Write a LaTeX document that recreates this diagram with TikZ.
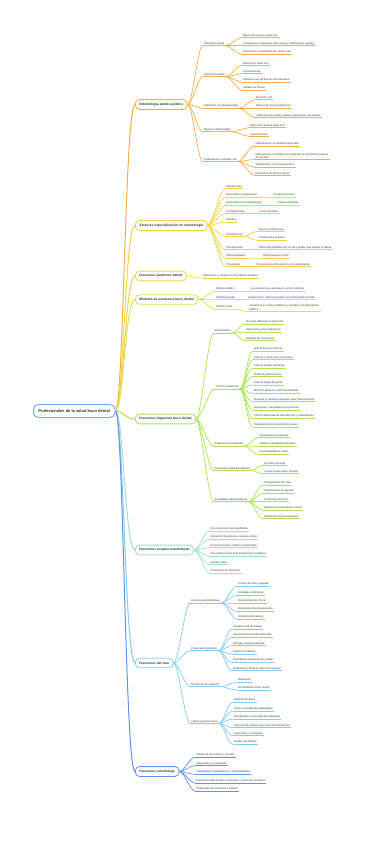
\documentclass[tikz,border=0pt]{standalone}
\usepackage{fontspec}
\setmainfont{Liberation Sans}
\definecolor{rootC}{HTML}{6FA8E8}
\definecolor{orgC}{HTML}{F8AE45}
\definecolor{ylwC}{HTML}{F3D43E}
\definecolor{limC}{HTML}{D2EA3E}
\definecolor{grnC}{HTML}{A8E64A}
\definecolor{tealC}{HTML}{A3DDD3}
\definecolor{skyC}{HTML}{82CCF2}
\definecolor{bluC}{HTML}{5F93EE}
\definecolor{txtC}{HTML}{1F3A2D}
\newcommand{\lffont}{\fontsize{2.7}{3.3}\selectfont}
\newcommand{\brfont}{\fontsize{3.3}{4}\selectfont\bfseries}
\newcommand{\rtfont}{\fontsize{4}{5}\selectfont\bfseries}
\begin{document}
\begin{tikzpicture}[x=1pt,y=-1pt,
  rootbox/.style={draw=rootC,line width=.9pt,rounded corners=5pt,fill=white,font=\rtfont,text=txtC,inner xsep=5pt,minimum height=13pt,anchor=west},
  mainbox/.style={draw=#1,line width=.8pt,rounded corners=4pt,fill=white,font=\brfont,text=txtC,inner xsep=4pt,minimum height=9.5pt,anchor=west},
  leaf/.style={anchor=south west,align=left,inner xsep=1.2pt,inner ysep=.9pt,font=\lffont,text=black!78,
    append after command={\pgfextra{\let\ulnode\tikzlastnode}(\ulnode.south west) edge[draw=#1,line width=.7pt] (\ulnode.south east)}},
  link/.style={color=#1,line width=.7pt,to path={.. controls +(5,0) and +(-5,0) .. (\tikztotarget)}},
  rootlink/.style={line width=1pt,to path={.. controls +(8,0) and +(-10,0) .. (\tikztotarget)}}]
\useasboundingbox (0,0) rectangle (369,848);

\node[rootbox] (root) at (33,411) {Profesionales de la salud buco dental};
\node[mainbox=orgC] (b1) at (135,104.5) {Odontología ámbito público};
\node[mainbox=ylwC] (b2) at (135,225.5) {Áreas de especialización de odontología};
\node[mainbox=ylwC] (b3) at (135,276) {Funciones protésico dental};
\node[mainbox=limC] (b4) at (135,299.5) {Modelos de asistencia buco dental};
\node[mainbox=grnC] (b5) at (135,419) {Funciones higienista buco dental};
\node[mainbox=tealC] (b6) at (135,550) {Funciones cirujano maxilofacial};
\node[mainbox=skyC] (b7) at (135,663) {Funciones del tcae};
\node[mainbox=bluC] (b8) at (135,771.5) {Funciones odontólogo};
\path[rootlink] (root.east) edge[orgC] (b1.west) edge[ylwC] (b2.west) edge[ylwC] (b3.west)
  edge[limC] (b4.west) edge[grnC] (b5.west) edge[tealC] (b6.west) edge[skyC] (b7.west) edge[bluC] (b8.west);

\node[leaf=orgC] (b1a) at (202.7,45.7) {Población adulta};
\node[leaf=orgC] (b1a1) at (241.7,37.7) {Educación para la salud oral};
\node[leaf=orgC] (b1a2) at (241.7,45.7) {Tratamientos problemas infecciosos o inflamatorios agudos};
\node[leaf=orgC] (b1a3) at (241.7,54.3) {Prevención y tratamiento de cáncer oral};
\node[leaf=orgC] (b1b) at (202.7,76.7) {Población infantil};
\node[leaf=orgC] (b1b1) at (242,65.3) {Educación salud oral};
\node[leaf=orgC] (b1b2) at (242,73.7) {Fluorizaciones};
\node[leaf=orgC] (b1b3) at (242,82) {Obturaciones de dientes permanentes};
\node[leaf=orgC] (b1b4) at (242,90) {Sellado de fisuras};
\node[leaf=orgC] (b1c) at (202.7,108.3) {Población con discapacidad};
\node[leaf=orgC] (b1c1) at (255,99.7) {Revisión oral};
\node[leaf=orgC] (b1c2) at (255,108.3) {Educación para la salud oral};
\node[leaf=orgC] (b1c3) at (255,117.7) {Sedación para poder realizar tratamientos necesarios};
\node[leaf=orgC] (b1d) at (202.7,131.7) {Mujeres embarazadas};
\node[leaf=orgC] (b1d1) at (249,127.7) {Educación para la salud oral};
\node[leaf=orgC] (b1d2) at (249,136.3) {Fluorizaciones};
\node[leaf=orgC] (b1e) at (202.7,161.3) {Tratamientos excluidos son};
\node[leaf=orgC] (b1e1) at (254.3,146) {Obturaciones en dientes temporales};
\node[leaf=orgC] (b1e2) at (254.3,159.5) {Obturaciones en dientes permanentes en personas mayores\\de 14 años};
\node[leaf=orgC] (b1e3) at (254.3,167) {Tratamientos con fines estéticos};
\node[leaf=orgC] (b1e4) at (254.3,175.3) {Extracción de dientes sanos};
\path[link=orgC] (b1.east) edge (b1a.south west) edge (b1b.south west) edge (b1c.south west) edge (b1d.south west) edge (b1e.south west);
\path[link=orgC] (b1a.south east) edge (b1a1.south west) edge (b1a2.south west) edge (b1a3.south west);
\path[link=orgC] (b1b.south east) edge (b1b1.south west) edge (b1b2.south west) edge (b1b3.south west) edge (b1b4.south west);
\path[link=orgC] (b1c.south east) edge (b1c1.south west) edge (b1c2.south west) edge (b1c3.south west);
\path[link=orgC] (b1d.south east) edge (b1d1.south west) edge (b1d2.south west);
\path[link=orgC] (b1e.south east) edge (b1e1.south west) edge (b1e2.south west) edge (b1e3.south west) edge (b1e4.south west);

\node[leaf=ylwC] (b2a) at (225,188.7) {Ortodoncista};
\node[leaf=ylwC] (b2b) at (225,197) {Especialista cirugía bucal};
\node[leaf=ylwC] (b2b1) at (271.7,197) {Cirugías menores};
\node[leaf=ylwC] (b2c) at (225,205.3) {Especialista en implantología};
\node[leaf=ylwC] (b2c1) at (276.7,205.3) {Coloca implantes};
\node[leaf=ylwC] (b2d) at (225,213.7) {Prostodoncista};
\node[leaf=ylwC] (b2d1) at (258.3,213.7) {Coloca Prótesis};
\node[leaf=ylwC] (b2e) at (225,222) {Estética};
\node[leaf=ylwC] (b2f) at (225,236.3) {Endodoncista};
\node[leaf=ylwC] (b2f1) at (257.3,231.3) {Nervios endodoncias};
\node[leaf=ylwC] (b2f2) at (257.3,240.3) {Tratamientos pulpares};
\node[leaf=ylwC] (b2g) at (225,249.7) {Periodoncista};
\node[leaf=ylwC] (b2g1) at (257.3,249.7) {Trata enfermedades de encías y tejidos que rodean el diente};
\node[leaf=ylwC] (b2h) at (225,258) {Odontopediatra};
\node[leaf=ylwC] (b2h1) at (261.7,258) {Odontología en niños};
\node[leaf=ylwC] (b2i) at (225,266.3) {Preventista};
\node[leaf=ylwC] (b2i1) at (255,266.3) {Promociona la Prevención en la salud dental};
\path[link=ylwC] (b2.east) edge (b2a.south west) edge (b2b.south west) edge (b2c.south west) edge (b2d.south west) edge (b2e.south west)
  edge (b2f.south west) edge (b2g.south west) edge (b2h.south west) edge (b2i.south west);
\path[link=ylwC] (b2b.south east) edge (b2b1.south west);
\path[link=ylwC] (b2c.south east) edge (b2c1.south west);
\path[link=ylwC] (b2d.south east) edge (b2d1.south west);
\path[link=ylwC] (b2f.south east) edge (b2f1.south west) edge (b2f2.south west);
\path[link=ylwC] (b2g.south east) edge (b2g1.south west);
\path[link=ylwC] (b2h.south east) edge (b2h1.south west);
\path[link=ylwC] (b2i.south east) edge (b2i1.south west);

\node[leaf=ylwC] (b3a) at (201.7,278) {Fabricación y reparación de Prótesis dentales};
\path[link=ylwC] (b3.east) edge (b3a.south west);

\node[leaf=limC] (b4a) at (215,291.3) {Modelo público};
\node[leaf=limC] (b4a1) at (250,291.3) {La asistencia se ejecuta en centros públicos};
\node[leaf=limC] (b4b) at (215,299.7) {Modelo privado};
\node[leaf=limC] (b4b1) at (246.7,299.7) {Asistencia en clínicas privadas con financiación privada};
\node[leaf=limC] (b4c) at (215,309) {Modelo mixto};
\node[leaf=limC] (b4c1) at (248.3,311.7) {Asistencia en centros públicos y privados con financiación\\pública};
\path[link=limC] (b4.east) edge (b4a.south west) edge (b4b.south west) edge (b4c.south west);
\path[link=limC] (b4a.south east) edge (b4a1.south west);
\path[link=limC] (b4b.south east) edge (b4b1.south west);
\path[link=limC] (b4c.south east) edge (b4c1.south west);

\node[leaf=grnC] (b5a) at (213.3,333) {Salud pública};
\node[leaf=grnC] (b5a1) at (245,324) {Recoger datos de la salud oral};
\node[leaf=grnC] (b5a2) at (245,332.3) {Educación para la salud oral};
\node[leaf=grnC] (b5a3) at (245,340.7) {Medidas de prevención};
\node[leaf=grnC] (b5b) at (214.3,389) {Técnico asistencial};
\node[leaf=grnC] (b5b1) at (252.5,351.3) {Aplicar fluoruros tópicos};
\node[leaf=grnC] (b5b2) at (252.5,359.7) {Colocar y retirar hilos retractores};
\node[leaf=grnC] (b5b3) at (252.5,368.1) {Colocar sellado de fisuras};
\node[leaf=grnC] (b5b4) at (252.5,376.5) {Pulido de obturaciones};
\node[leaf=grnC] (b5b5) at (252.5,384.9) {Colocar Dique de goma};
\node[leaf=grnC] (b5b6) at (252.5,393.4) {Eliminar cálculos y tinciones dentales};
\node[leaf=grnC] (b5b7) at (252.5,401.8) {Preparar el material necesario para intervenciones};
\node[leaf=grnC] (b5b8) at (252.5,410.2) {Asistencia y transferencia al personal};
\node[leaf=grnC] (b5b9) at (252.5,418.6) {Técnica adecuada de desinfección y esterilización};
\node[leaf=grnC] (b5b10) at (252.5,427) {Tratamiento de prevención de caries};
\node[leaf=grnC] (b5c) at (213.3,446) {Exploración bucodental};
\node[leaf=grnC] (b5c1) at (258.3,437.7) {Anamnesis del paciente};
\node[leaf=grnC] (b5c2) at (258.3,446.3) {Obtener radiografías dentales};
\node[leaf=grnC] (b5c3) at (258.3,454.5) {Susceptibilidad a caries};
\node[leaf=grnC] (b5d) at (213.3,470.3) {Prevención salud bucodental};
\node[leaf=grnC] (b5d1) at (263.3,465.3) {Enseñar técnicas};
\node[leaf=grnC] (b5d2) at (263.3,473.7) {Instrucciones sobre la dieta};
\node[leaf=grnC] (b5e) at (213.3,501.7) {Actividades administrativas};
\node[leaf=grnC] (b5e1) at (262.7,485) {Programación de citas};
\node[leaf=grnC] (b5e2) at (262.7,493.3) {Organización de agenda};
\node[leaf=grnC] (b5e3) at (262.7,501.7) {Control de almacén};
\node[leaf=grnC] (b5e4) at (262.7,510.3) {Registro documentación clínica};
\node[leaf=grnC] (b5e5) at (262.7,518.7) {Confección de presupuestos};
\path[link=grnC] (b5.east) edge (b5a.south west) edge (b5b.south west) edge (b5c.south west) edge (b5d.south west) edge (b5e.south west);
\path[link=grnC] (b5a.south east) edge (b5a1.south west) edge (b5a2.south west) edge (b5a3.south west);
\path[link=grnC] (b5b.south east) edge (b5b1.south west) edge (b5b2.south west) edge (b5b3.south west) edge (b5b4.south west) edge (b5b5.south west)
  edge (b5b6.south west) edge (b5b7.south west) edge (b5b8.south west) edge (b5b9.south west) edge (b5b10.south west);
\path[link=grnC] (b5c.south east) edge (b5c1.south west) edge (b5c2.south west) edge (b5c3.south west);
\path[link=grnC] (b5d.south east) edge (b5d1.south west) edge (b5d2.south west);
\path[link=grnC] (b5e.south east) edge (b5e1.south west) edge (b5e2.south west) edge (b5e3.south west) edge (b5e4.south west) edge (b5e5.south west);

\node[leaf=tealC] (b6a) at (209.3,531) {Reconstrucción de mandíbulas};
\node[leaf=tealC] (b6b) at (209.3,539.3) {Extracción de tumores y quistes orales};
\node[leaf=tealC] (b6c) at (209.3,547.7) {Extracciones de cordales complicadas};
\node[leaf=tealC] (b6d) at (209.3,556) {Reconstrucciones post tratamiento oncológico};
\node[leaf=tealC] (b6e) at (209.3,564.7) {Injertos óseos};
\node[leaf=tealC] (b6f) at (209.3,573) {Colocación de implantes};
\path[link=tealC] (b6.east) edge (b6a.south west) edge (b6b.south west) edge (b6c.south west) edge (b6d.south west) edge (b6e.south west) edge (b6f.south west);

\node[leaf=skyC] (b7a) at (190,603) {Labores administrativas};
\node[leaf=skyC] (b7a1) at (236.7,586.3) {Control de citas y agenda};
\node[leaf=skyC] (b7a2) at (236.7,595) {Llamadas telefónicas};
\node[leaf=skyC] (b7a3) at (236.7,603) {Documentación clínica};
\node[leaf=skyC] (b7a4) at (236.7,611.3) {Realización de presupuestos};
\node[leaf=skyC] (b7a5) at (236.7,619) {Almacén del material};
\node[leaf=skyC] (b7b) at (190,650.7) {Preparación gabinete};
\node[leaf=skyC] (b7b1) at (231.7,629) {Preparar sala de trabajo};
\node[leaf=skyC] (b7b2) at (231.7,637.3) {Disponer instrumental adecuado};
\node[leaf=skyC] (b7b3) at (231.7,645.7) {Recoger material utilizado};
\node[leaf=skyC] (b7b4) at (231.7,654) {Limpiar el material};
\node[leaf=skyC] (b7b5) at (231.7,662.3) {Desinfectar superficies de trabajo};
\node[leaf=skyC] (b7b6) at (231.7,670.7) {Reabastecer bloques antes de empezar};
\node[leaf=skyC] (b7c) at (190,686.7) {Recepción del paciente};
\node[leaf=skyC] (b7c1) at (236.7,682.3) {Recepción};
\node[leaf=skyC] (b7c2) at (236.7,690) {Acomodación sillón dental};
\node[leaf=skyC] (b7d) at (190,723.3) {Labores asistenciales};
\node[leaf=skyC] (b7d1) at (232.7,702.3) {Registro de datos};
\node[leaf=skyC] (b7d2) at (232.7,711) {Toma y revelado de radiografías};
\node[leaf=skyC] (b7d3) at (232.7,719) {Preparación y mezclado de materiales};
\node[leaf=skyC] (b7d4) at (232.7,727.7) {Instrumentar durante ejecución del tratamiento};
\node[leaf=skyC] (b7d5) at (232.7,735.7) {Aspiración y iluminación};
\node[leaf=skyC] (b7d6) at (232.7,744.3) {Ayudar odontólogo};
\path[link=skyC] (b7.east) edge (b7a.south west) edge (b7b.south west) edge (b7c.south west) edge (b7d.south west);
\path[link=skyC] (b7a.south east) edge (b7a1.south west) edge (b7a2.south west) edge (b7a3.south west) edge (b7a4.south west) edge (b7a5.south west);
\path[link=skyC] (b7b.south east) edge (b7b1.south west) edge (b7b2.south west) edge (b7b3.south west) edge (b7b4.south west) edge (b7b5.south west) edge (b7b6.south west);
\path[link=skyC] (b7c.south east) edge (b7c1.south west) edge (b7c2.south west);
\path[link=skyC] (b7d.south east) edge (b7d1.south west) edge (b7d2.south west) edge (b7d3.south west) edge (b7d4.south west) edge (b7d5.south west) edge (b7d6.south west);

\node[leaf=bluC] (b8a) at (195,757) {Tareas de prevención y revisión};
\node[leaf=bluC] (b8b) at (195,765.7) {Diagnóstico y tratamiento};
\node[leaf=bluC] (b8c) at (195,774.3) {Tratamientos restauradores y rehabilitadores};
\node[leaf=bluC] (b8d) at (195,783) {Prescribir medicamentos, fórmulas y productos sanitarios};
\node[leaf=bluC] (b8e) at (195,791) {Programas de educación sanitaria};
\path[link=bluC] (b8.east) edge (b8a.south west) edge (b8b.south west) edge (b8c.south west) edge (b8d.south west) edge (b8e.south west);
\end{tikzpicture}
\end{document}
